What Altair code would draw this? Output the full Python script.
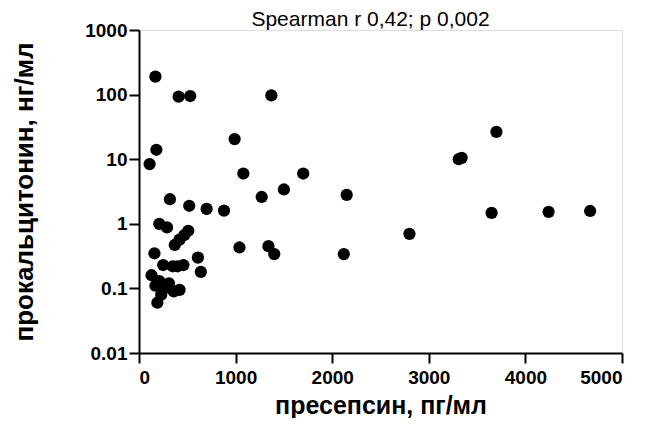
import altair as alt
import pandas as pd

presepsin = [170, 410, 530, 1370, 990, 180, 110, 1080, 1700, 3310,
             3340, 3700, 1500, 1270, 2150, 320, 520, 700, 880, 3650,
             4240, 4670, 210, 290, 2800, 1040, 1340, 1400, 2120, 370,
             420, 470, 510, 160, 610, 640, 250, 350, 460, 130,
             170, 230, 190, 310, 360, 420, 260, 210, 400]
procalcitonin = [190, 93, 95, 97, 20.5, 14, 8.4, 6.0, 6.0, 10.0,
                 10.5, 26.5, 3.4, 2.6, 2.8, 2.4, 1.9, 1.7, 1.6, 1.48,
                 1.53, 1.58, 1.0, 0.88, 0.70, 0.43, 0.45, 0.34, 0.34, 0.47,
                 0.57, 0.67, 0.78, 0.35, 0.30, 0.18, 0.23, 0.22, 0.23, 0.16,
                 0.11, 0.08, 0.06, 0.12, 0.09, 0.095, 0.10, 0.13, 0.22]

x_ticks = [0, 1000, 2000, 3000, 4000, 5000]
y_ticks = [0.01, 0.1, 1, 10, 100, 1000]

title_text = "Spearman r 0,42; p 0,002"
x_title = "пресепсин, пг/мл"
y_title = "прокальцитонин, нг/мл"

df = pd.DataFrame({"x": presepsin, "y": procalcitonin})

FONT = "Liberation Sans"

chart = alt.Chart(df).mark_circle(size=150, color="black", opacity=1).encode(
    x=alt.X("x:Q",
            scale=alt.Scale(domain=[0, 5000], nice=False, zero=False),
            axis=alt.Axis(values=x_ticks, format="d", title=x_title,
                          grid=False, domainColor="black", domainWidth=2,
                          tickColor="black", tickWidth=2, tickSize=10,
                          labelFont=FONT, labelFontSize=19, labelFontWeight="bold",
                          labelColor="black", labelPadding=5,
                          titleFont=FONT, titleFontSize=25, titleFontWeight="bold",
                          titleColor="black", titleBaseline="alphabetic",
                          titleY=60)),
    y=alt.Y("y:Q",
            scale=alt.Scale(type="log", domain=[0.01, 1000], nice=False),
            axis=alt.Axis(values=y_ticks, format="~g", title=y_title,
                          grid=False, domainColor="black", domainWidth=2,
                          tickColor="black", tickWidth=2, tickSize=10,
                          labelFont=FONT, labelFontSize=19, labelFontWeight="bold",
                          labelColor="black", labelPadding=2,
                          titleFont=FONT, titleFontSize=26, titleFontWeight="bold",
                          titleColor="black", titleBaseline="alphabetic",
                          titleX=-107, titleY=161.5, titleAngle=-90)),
).properties(
    width=483,
    height=323,
    title=alt.TitleParams(title_text, font=FONT, fontSize=21, fontWeight="normal",
                          color="black", anchor="middle", baseline="alphabetic",
                          frame="group", offset=-26, dx=-10),
    autosize=alt.AutoSizeParams(type="none"),
    padding={"left": 131, "top": 22, "right": 18, "bottom": 65},
).configure_view(stroke=None).configure(background="white")

chart.save("out.html", embed_options={"renderer": "svg", "actions": False})
